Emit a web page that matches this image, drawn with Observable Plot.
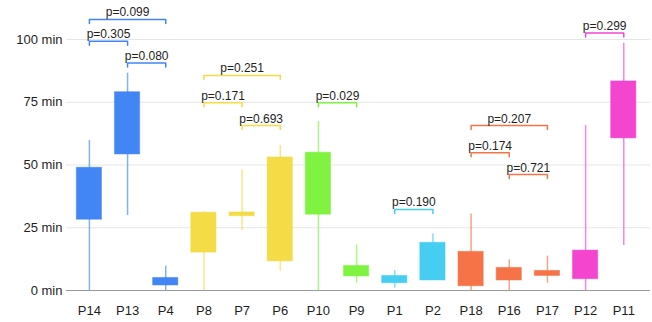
<!DOCTYPE html>
<html>
<head>
<meta charset="utf-8">
<script src="https://cdn.jsdelivr.net/npm/d3@7"></script>
<script src="https://cdn.jsdelivr.net/npm/@observablehq/plot@0.6"></script>
<style>
  html, body { margin: 0; padding: 0; background: #fff; }
  #chart svg { display: block; font-family: "Liberation Sans", Arial, Helvetica, sans-serif; }
</style>
</head>
<body>
<div id="chart"></div>
<script>
// Participants, in display order
const names = ["P14", "P13", "P4", "P8", "P7", "P6", "P10", "P9", "P1", "P2", "P18", "P16", "P17", "P12", "P11"];
// Group each participant belongs to (index into groupColors)
const groups = [0, 0, 0, 1, 1, 1, 2, 2, 3, 3, 4, 4, 4, 5, 5];
const groupColors = ["#4285f4", "#f4dc46", "#80f341", "#45cdf2", "#f57347", "#f445cf"];

// Box statistics, minutes
const low  = [0,    29.9, 0,   0,    23.9, 7.7,  0,    2.9,  0.9, 4.0,  0,    0,    2.9,  0,    17.9];
const q1   = [28.2, 54.2, 2.0, 15.1, 29.6, 11.6, 30.2, 5.6,  2.9, 4.0,  1.7,  4.0,  5.8,  4.5,  60.6];
const q3   = [48.9, 79.0, 5.0, 31.0, 31.1, 53.0, 54.9, 9.8,  5.8, 19.0, 15.4, 9.0,  7.8,  15.9, 83.3];
const high = [59.8, 86.6, 9.7, 31.5, 48.1, 57.8, 67.3, 18.2, 8.0, 22.6, 30.5, 12.2, 13.7, 65.7, 98.5];

// Pairwise comparisons: from, to, bracket level (min), p-value
const cmpFrom  = ["P14", "P14", "P13", "P8", "P8", "P7", "P10", "P1", "P18", "P18", "P16", "P12"];
const cmpTo    = ["P4", "P13", "P4", "P6", "P7", "P6", "P9", "P2", "P17", "P16", "P17", "P11"];
const cmpLevel = [108, 99.3, 90.6, 85.7, 74.8, 65.7, 74.8, 32.3, 65.7, 54.9, 46.2, 102.6];
const cmpP     = ["0.099", "0.305", "0.080", "0.251", "0.171", "0.693", "0.029", "0.190", "0.207", "0.174", "0.721", "0.299"];

const yTicks = [0, 25, 50, 75, 100];

const boxes = names.map((name, i) => ({
  i, name, color: groupColors[groups[i]],
  low: low[i], q1: q1[i], q3: q3[i], high: high[i]
}));

const brackets = cmpFrom.map((f, k) => {
  const a = names.indexOf(f), b = names.indexOf(cmpTo[k]);
  return {k, a, b, mid: (a + b) / 2, level: cmpLevel[k], label: "p=" + cmpP[k], color: groupColors[groups[a]]};
});

// Bracket outline: short drop at each end, bar across the top
const drop = 1.6;
const bracketPts = brackets.flatMap(d => [
  {k: d.k, x: d.a, y: d.level - drop, color: d.color},
  {k: d.k, x: d.a, y: d.level, color: d.color},
  {k: d.k, x: d.b, y: d.level, color: d.color},
  {k: d.k, x: d.b, y: d.level - drop, color: d.color}
]);

const halfBox = 0.33;

const chart = Plot.plot({
  width: 652,
  height: 322,
  marginLeft: 66,
  marginRight: 2,
  marginTop: 39,
  marginBottom: 32,
  style: {fontSize: "13px", color: "#1e1e1e", background: "#fff"},
  x: {
    domain: [-0.6, 14.7],
    ticks: d3.range(names.length),
    tickFormat: i => names[i],
    tickSize: 0,
    tickPadding: 15,
    label: null
  },
  y: {
    domain: [0, 100],
    ticks: yTicks,
    tickFormat: d => d + " min",
    tickSize: 0,
    tickPadding: 4,
    label: null
  },
  marks: [
    Plot.ruleY(yTicks.slice(1), {stroke: "#e6e6e6", strokeWidth: 1}),
    Plot.ruleY([0], {stroke: "#9a9a9a", strokeWidth: 1}),
    Plot.ruleX(boxes, {x: "i", y1: "low", y2: "high", stroke: "color", strokeOpacity: 0.65, strokeWidth: 1.5}),
    Plot.rectY(boxes, {
      x1: d => d.i - halfBox, x2: d => d.i + halfBox,
      y1: "q1", y2: "q3",
      fill: "color", stroke: "color", strokeOpacity: 0.5, strokeWidth: 1
    }),
    Plot.line(bracketPts, {x: "x", y: "y", z: "k", stroke: "color", strokeWidth: 1.5, curve: "linear"}),
    Plot.text(brackets, {
      x: "mid", y: "level", text: "label",
      lineAnchor: "bottom", dy: -3, fontSize: 12, fill: "#1e1e1e"
    })
  ]
});

document.getElementById("chart").appendChild(chart);
</script>
</body>
</html>
